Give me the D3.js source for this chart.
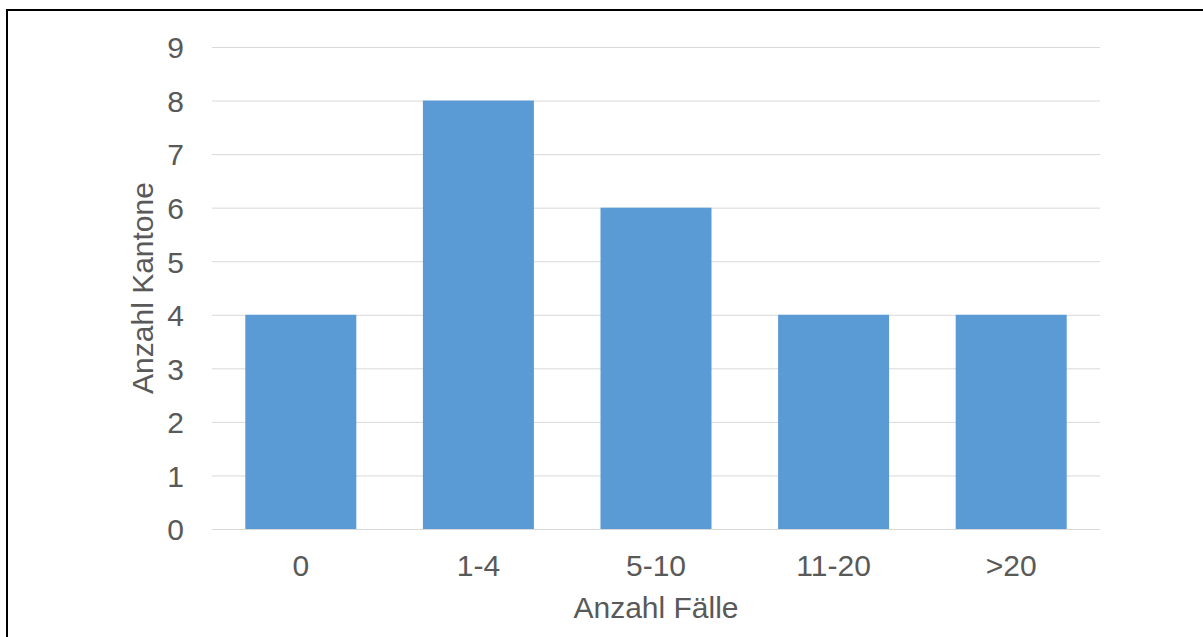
<!DOCTYPE html>
<html>
<head>
<meta charset="utf-8">
<script src="https://cdn.jsdelivr.net/npm/d3@7"></script>
<style>
  html, body { margin: 0; padding: 0; background: #fff; }
  svg { display: block; }
  text { font-family: "Liberation Sans", Arial, sans-serif; fill: #595959; }
</style>
</head>
<body>
<svg id="chart" width="1203" height="637"></svg>
<script>
const categories = ["0", "1-4", "5-10", "11-20", ">20"];
const values = [4, 8, 6, 4, 4];
const yTicks = [0, 1, 2, 3, 4, 5, 6, 7, 8, 9];
const xTitle = "Anzahl Fälle";
const yTitle = "Anzahl Kantone";

(function () {
const svg = d3.select("#chart");
const pLeft = 212, pRight = 1100, pTop = 47, pBottom = 529;

// outer border (only top/left visible in frame)
svg.append("rect")
  .attr("x", 7).attr("y", 10)
  .attr("width", 1400).attr("height", 800)
  .attr("fill", "none").attr("stroke", "#000").attr("stroke-width", 2);

const x = d3.scaleBand().domain(categories).range([pLeft, pRight])
  .paddingInner(0.375).paddingOuter(0.1875);
const y = d3.scaleLinear().domain([0, 9]).range([pBottom, pTop]);

// gridlines + y tick labels
const yAxis = d3.axisLeft(y).tickValues(yTicks).tickSize(-(pRight - pLeft)).tickPadding(28).tickFormat(d3.format("d"));
const gy = svg.append("g").attr("transform", `translate(${pLeft},0)`).call(yAxis);
gy.select(".domain").remove();
gy.selectAll(".tick line").attr("stroke", "#d9d9d9").attr("stroke-width", 1);
gy.selectAll(".tick text").attr("font-size", 30).attr("fill", "#595959")
  .attr("font-family", "Liberation Sans, Arial, sans-serif").attr("dy", "0.36em");

// bars
svg.append("g").selectAll("rect").data(values).join("rect")
  .attr("x", (d, i) => x(categories[i]))
  .attr("y", d => y(d))
  .attr("width", x.bandwidth())
  .attr("height", d => y(0) - y(d))
  .attr("fill", "#5b9bd5");

// x axis
const xAxis = d3.axisBottom(x).tickSize(0).tickPadding(0);
const gx = svg.append("g").attr("transform", `translate(0,${pBottom})`).call(xAxis);
gx.select(".domain").attr("stroke", "#d9d9d9").attr("d", `M${pLeft},0.5H${pRight}`);
gx.selectAll(".tick text").attr("font-size", 30).attr("fill", "#595959")
  .attr("font-family", "Liberation Sans, Arial, sans-serif")
  .attr("dy", null).attr("y", 47);

// axis titles
svg.append("text").attr("x", (pLeft + pRight) / 2).attr("y", 618)
  .attr("text-anchor", "middle").attr("font-size", 30).text(xTitle);
svg.append("text")
  .attr("transform", `translate(153,288) rotate(-90)`)
  .attr("text-anchor", "middle").attr("font-size", 30).text(yTitle);
})();
</script>
</body>
</html>
